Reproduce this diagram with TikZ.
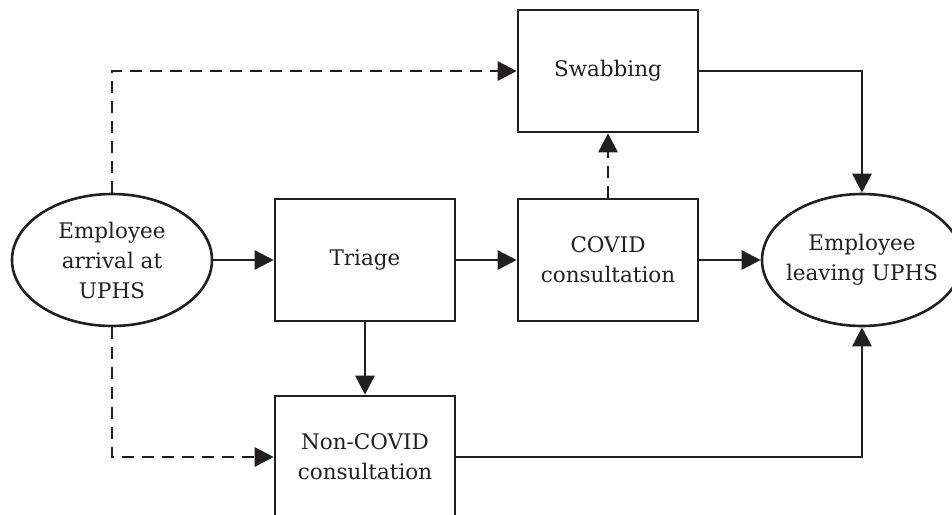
\documentclass[tikz,border=0pt]{standalone}
\usepackage{fontspec}
\setmainfont{DejaVu Serif}
\usetikzlibrary{arrows.meta,shapes.geometric}
\definecolor{ink}{HTML}{231F20}
\tikzset{
  box/.style={draw=ink, line width=2.6pt, rectangle, minimum width=180pt, minimum height=122pt, inner sep=0pt, align=center, text=ink, font=\fontsize{21.5}{30}\selectfont},
  oval/.style={draw=ink, line width=2.6pt, ellipse, minimum width=200pt, minimum height=132pt, inner xsep=-20pt, inner ysep=0pt, align=center, text=ink, font=\fontsize{21.5}{30}\selectfont},
  arr/.style={draw=ink, line width=2.6pt, -{Triangle[length=19pt,width=19pt]}},
  dsh/.style={dash pattern=on 12pt off 8pt}
}
\begin{document}
\begin{tikzpicture}[x=1pt,y=-1pt]
\useasboundingbox (0,0) rectangle (952,514);
\node[oval] (arrive) at (112,260) {Employee\\arrival at\\UPHS};
\node[box] (triage) at (365,260) {Triage};
\node[box] (covid) at (608,260) {COVID\\consultation};
\node[box] (swab) at (608,71) {Swabbing};
\node[box] (noncovid) at (365,457) {Non-COVID\\consultation};
\node[oval] (leave) at (862,260) {Employee\\leaving UPHS};
\draw[arr] (arrive) -- (triage);
\draw[arr] (triage) -- (covid);
\draw[arr] (covid) -- (leave);
\draw[arr] (triage) -- (noncovid);
\draw[arr,dsh] (covid) -- (swab);
\draw[arr] (swab.east) -| (leave.north);
\draw[arr] (noncovid.east) -| (leave.south);
\draw[arr,dsh] (arrive.north) |- (swab.west);
\draw[arr,dsh] (arrive.south) |- (noncovid.west);
\end{tikzpicture}
\end{document}
